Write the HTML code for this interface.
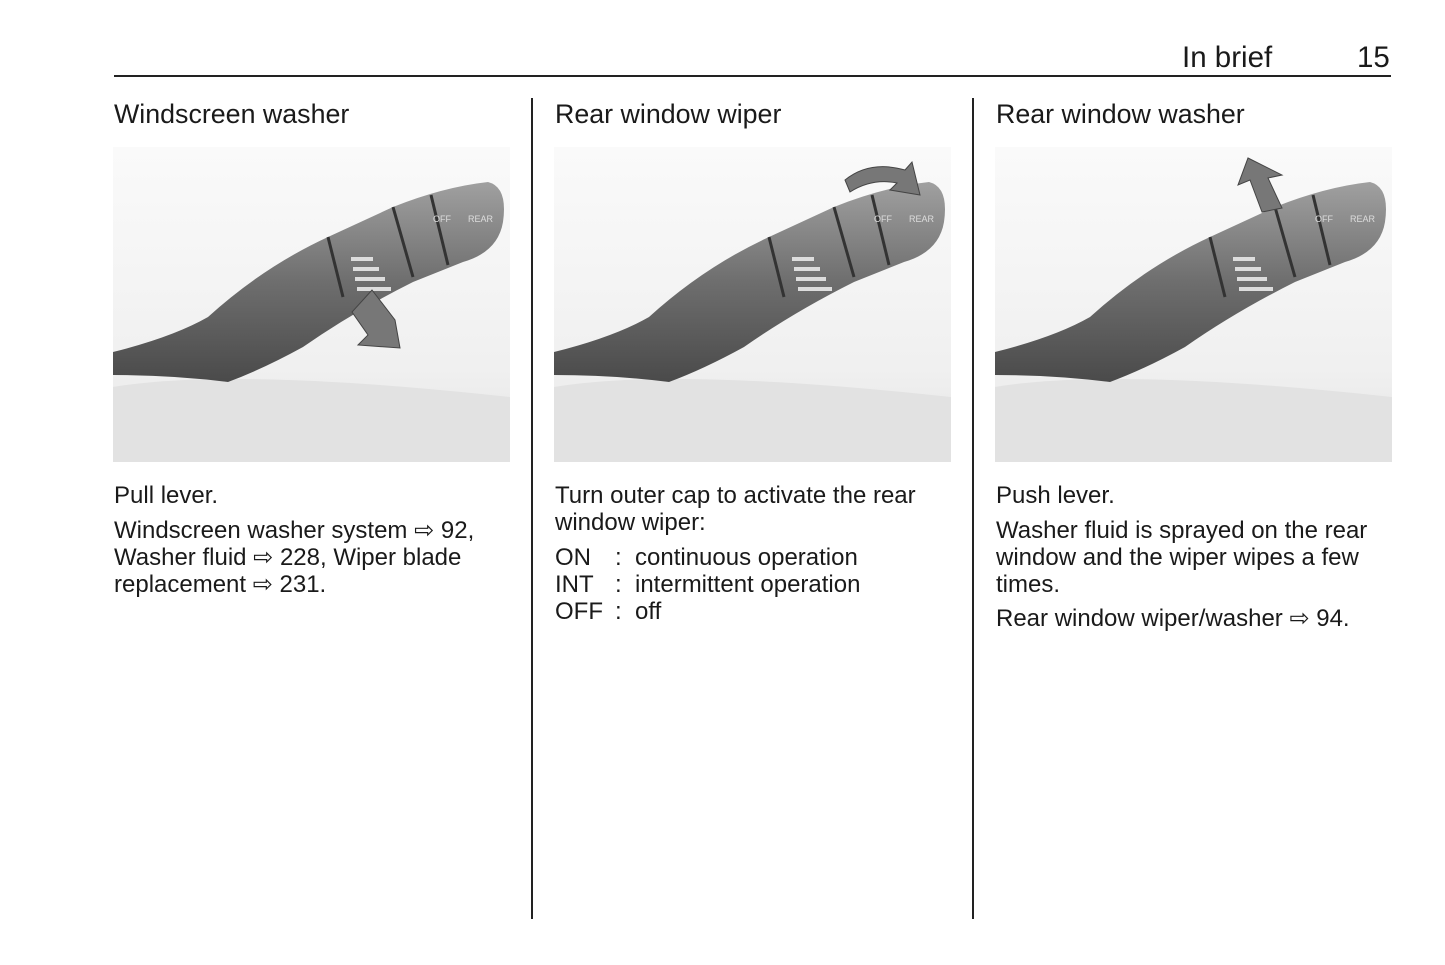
<!DOCTYPE html>
<html><head><meta charset="utf-8"><style>
body{margin:0;width:1445px;height:965px;background:#fff;font-family:"Liberation Sans",Arial,sans-serif;color:#1a1a1a;position:relative;overflow:hidden}
.a{position:absolute;white-space:nowrap}
.h{font-size:26.8px}
.t{font-size:24px;line-height:27px}
svg{position:absolute}
</style></head><body>
<div class="a" style="left:1182px;top:41px;font-size:29.5px">In brief</div>
<div class="a" style="left:1357px;top:41px;font-size:29.5px">15</div>
<div class="a" style="left:114px;top:75px;width:1277px;height:2px;background:#222"></div>
<div class="a" style="left:531px;top:98px;width:2px;height:821px;background:#222"></div>
<div class="a" style="left:972px;top:98px;width:2px;height:821px;background:#222"></div>

<div class="a h" style="left:114px;top:99px">Windscreen washer</div>
<div class="a h" style="left:555px;top:99px">Rear window wiper</div>
<div class="a h" style="left:996px;top:99px">Rear window washer</div>

<svg width="1445" height="965" style="left:0;top:0">
<defs>
<linearGradient id="bg" x1="0" y1="0" x2="0" y2="1"><stop offset="0" stop-color="#fafafa"/><stop offset="0.7" stop-color="#f0f0f0"/><stop offset="1" stop-color="#e4e4e4"/></linearGradient>
<linearGradient id="lv" x1="0" y1="0" x2="0" y2="1"><stop offset="0" stop-color="#a0a0a0"/><stop offset="0.5" stop-color="#6e6e6e"/><stop offset="1" stop-color="#4a4a4a"/></linearGradient>
<g id="pic">
<rect x="0" y="0" width="397" height="315" fill="url(#bg)"/>
<path d="M0 240 Q120 220 397 250 L397 315 L0 315Z" fill="#e2e2e2"/>
<path d="M0 205 Q60 190 95 170 Q150 120 215 90 L280 60 Q330 40 375 35 Q395 40 390 75 Q385 105 350 115 L300 135 Q240 165 190 200 Q150 222 115 235 Q60 228 0 228Z" fill="url(#lv)"/>
<path d="M215 90 L230 150 M280 60 L300 130 M318 48 L335 118" stroke="#333" stroke-width="3" fill="none"/>
<g fill="#ddd"><rect x="238" y="110" width="22" height="4"/><rect x="240" y="120" width="26" height="4"/><rect x="242" y="130" width="30" height="4"/><rect x="244" y="140" width="34" height="4"/></g>
<text x="320" y="75" font-size="9" fill="#ddd" font-family="Liberation Sans">OFF</text>
<text x="355" y="75" font-size="9" fill="#ddd" font-family="Liberation Sans">REAR</text>
</g>
</defs>
<use href="#pic" x="113" y="147"/>
<use href="#pic" x="554" y="147"/>
<use href="#pic" x="995" y="147"/>
<path d="M372 290 L395 320 L400 348 L358 345 L368 335 L352 312 Z" fill="#777" stroke="#444"/>
<path d="M845 180 Q870 160 905 170 L912 162 L920 195 L890 190 L897 183 Q872 178 850 192Z" fill="#777" stroke="#444"/>
<path d="M1262 212 L1250 180 L1238 185 L1248 158 L1282 175 L1268 178 L1282 208Z" fill="#777" stroke="#444"/>
</svg>

<div class="a t" style="left:114px;top:482px">Pull lever.</div>
<div class="a t" style="left:114px;top:517px">Windscreen washer system ⇨ 92,<br>Washer fluid ⇨ 228, Wiper blade<br>replacement ⇨ 231.</div>

<div class="a t" style="left:555px;top:482px">Turn outer cap to activate the rear<br>window wiper:</div>
<div class="a t" style="left:555px;top:544px">ON<br>INT<br>OFF</div>
<div class="a t" style="left:615px;top:544px">:&nbsp; continuous operation<br>:&nbsp; intermittent operation<br>:&nbsp; off</div>

<div class="a t" style="left:996px;top:482px">Push lever.</div>
<div class="a t" style="left:996px;top:517px">Washer fluid is sprayed on the rear<br>window and the wiper wipes a few<br>times.</div>
<div class="a t" style="left:996px;top:605px">Rear window wiper/washer ⇨ 94.</div>
</body></html>
